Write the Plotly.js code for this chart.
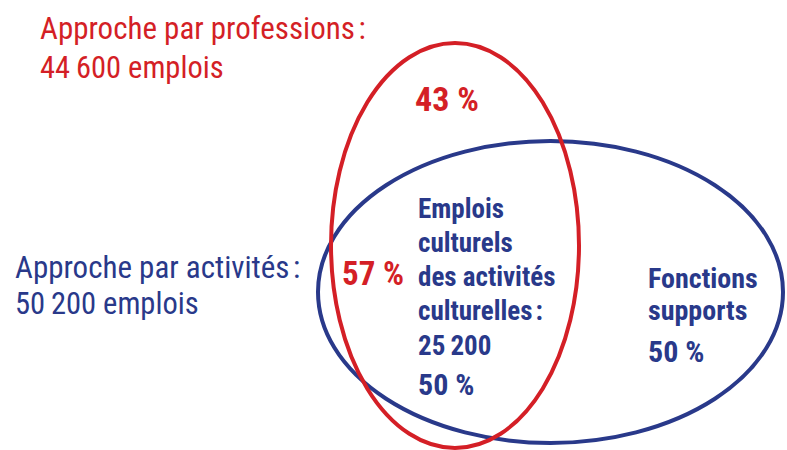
<!DOCTYPE html>
<html><head><meta charset="utf-8">
<script src="https://cdn.plot.ly/plotly-3.0.1.min.js"></script>
<style>html,body{margin:0;padding:0;background:#fff}#c{width:787px;height:450px}</style>
</head><body><div id="c"></div>
<script>
// Sets (Venn diagram)
const setNames = ["Approche par professions\u202F:", "Approche par activités\u202F:"];
const setTotals = ["44\u2009600 emplois", "50\u2009200 emplois"];
const professionsOnlyPct = "43 %";
const professionsSharedPct = "57 %";
const sharedLabel = ["Emplois", "culturels", "des activités", "culturelles\u202F:", "25\u2009200"];
const sharedPct = "50 %";
const supportLabel = ["Fonctions", "supports"];
const supportPct = "50 %";

const RED = "#d41f26", BLUE = "#29398a";
const FONT = "Roboto Condensed, Liberation Sans Narrow, Arial Narrow, sans-serif";

function ann(text, x, y, color, size, bold) {
  return {x: x, y: y, xref: 'x', yref: 'y', text: bold ? '<b>' + text + '</b>' : text,
    showarrow: false, xanchor: 'left', yanchor: 'middle',
    font: {family: FONT, size: size, color: color}, align: 'left'};
}

const annotations = [
  ann(setNames[0], 38, 28.5, RED, 31, false),
  ann(setTotals[0], 38, 67, RED, 30.5, false),
  ann(setNames[1], 13, 267, BLUE, 31, false),
  ann(setTotals[1], 13, 303.5, BLUE, 30.5, false),
  ann(professionsOnlyPct, 413, 98.5, RED, 34, true),
  ann(professionsSharedPct, 340, 273, RED, 33, true),
];
const sharedY = [209, 243, 277, 310.5, 345.5];
sharedLabel.forEach((t, i) => annotations.push(ann(t, 416, sharedY[i], BLUE, 27, true)));
annotations.push(ann(sharedPct, 416, 384.5, BLUE, 30, true));
const supY = [278.5, 310.5];
supportLabel.forEach((t, i) => annotations.push(ann(t, 646, supY[i], BLUE, 28, true)));
annotations.push(ann(supportPct, 646, 351.5, BLUE, 30, true));

const shapes = [
  {type: 'circle', xref: 'x', yref: 'y', x0: 318, x1: 783, y0: 141, y1: 443,
   line: {color: BLUE, width: 4}, layer: 'above'},
  {type: 'circle', xref: 'x', yref: 'y', x0: 331, x1: 579, y0: 43, y1: 448,
   line: {color: RED, width: 4}, layer: 'above'},
];

Plotly.newPlot('c', [{x: [], y: [], type: 'scatter', hoverinfo: 'skip'}], {
  width: 787, height: 450, margin: {l: 0, r: 0, t: 0, b: 0},
  paper_bgcolor: '#fff', plot_bgcolor: '#fff', showlegend: false,
  xaxis: {range: [0, 787], visible: false, fixedrange: true},
  yaxis: {range: [450, 0], visible: false, fixedrange: true},
  annotations: annotations, shapes: shapes
}, {staticPlot: true});
</script></body></html>
